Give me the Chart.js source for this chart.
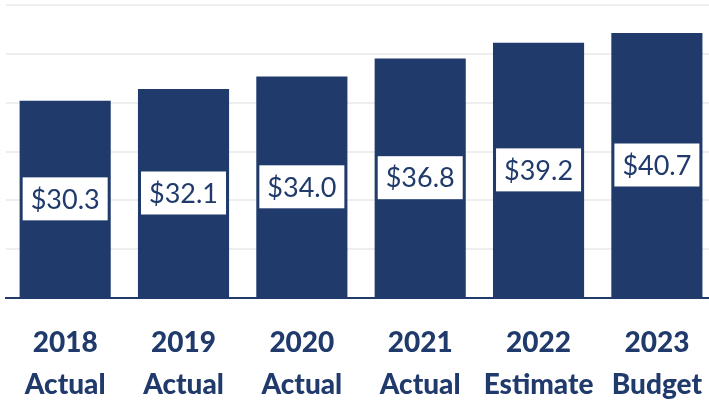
<!DOCTYPE html>
<html>
<head>
<meta charset="utf-8">
<script src="https://cdn.jsdelivr.net/npm/chart.js@4/dist/chart.umd.min.js"></script>
<style>
  html, body { margin: 0; padding: 0; background: #fff; overflow: hidden; }
  #wrap { width: 726px; height: 403px; }
</style>
</head>
<body>
<div id="wrap"><canvas id="chart" width="726" height="403"></canvas></div>
<script>
const years = ["2018", "2019", "2020", "2021", "2022", "2023"];
const kinds = ["Actual", "Actual", "Actual", "Actual", "Estimate", "Budget"];
const values = [30.3, 32.1, 34.0, 36.8, 39.2, 40.7];

const navy = "#1f3a6b";

// white boxed value labels in the middle of each bar
const boxLabels = {
    id: "boxLabels",
    afterDatasetsDraw(chart) {
        const ctx = chart.ctx;
        const meta = chart.getDatasetMeta(0);
        ctx.save();
        ctx.font = "27px Lato";
        ctx.textAlign = "center";
        ctx.textBaseline = "middle";
        meta.data.forEach((bar, i) => {
            const text = "$" + values[i].toFixed(1);
            const cy = (bar.y + bar.base) / 2;
            const w = ctx.measureText(text).width + 16;
            const h = 43;
            ctx.fillStyle = "#ffffff";
            ctx.fillRect(bar.x - w / 2, cy - h / 2, w, h);
            ctx.fillStyle = navy;
            ctx.fillText(text, bar.x, cy + 1);
        });
        ctx.restore();
    }
};

new Chart(document.getElementById("chart"), {
    type: "bar",
    data: {
        labels: years.map((y, i) => [y, kinds[i]]),
        datasets: [{
            data: values,
            backgroundColor: navy,
            barPercentage: 0.77,
            categoryPercentage: 1.0,
        }]
    },
    options: {
        responsive: false,
        animation: false,
        layout: { padding: { top: 5, left: 6, right: 0, bottom: -27 } },
        plugins: {
            legend: { display: false },
            tooltip: { enabled: false },
        },
        scales: {
            x: {
                grid: { display: false, drawTicks: false },
                border: { display: true, color: navy, width: 2 },
                ticks: {
                    color: navy,
                    padding: 24,
                    font: { family: "Lato", size: 28, weight: "900", lineHeight: 1.5 },
                    maxRotation: 0,
                    autoSkip: false,
                }
            },
            y: {
                min: 0,
                max: 45,
                grid: { color: "#eeeeee", lineWidth: 2, drawTicks: false },
                border: { display: false },
                ticks: { display: false, stepSize: 7.5 },
            }
        }
    },
    plugins: [boxLabels]
});
</script>
</body>
</html>
